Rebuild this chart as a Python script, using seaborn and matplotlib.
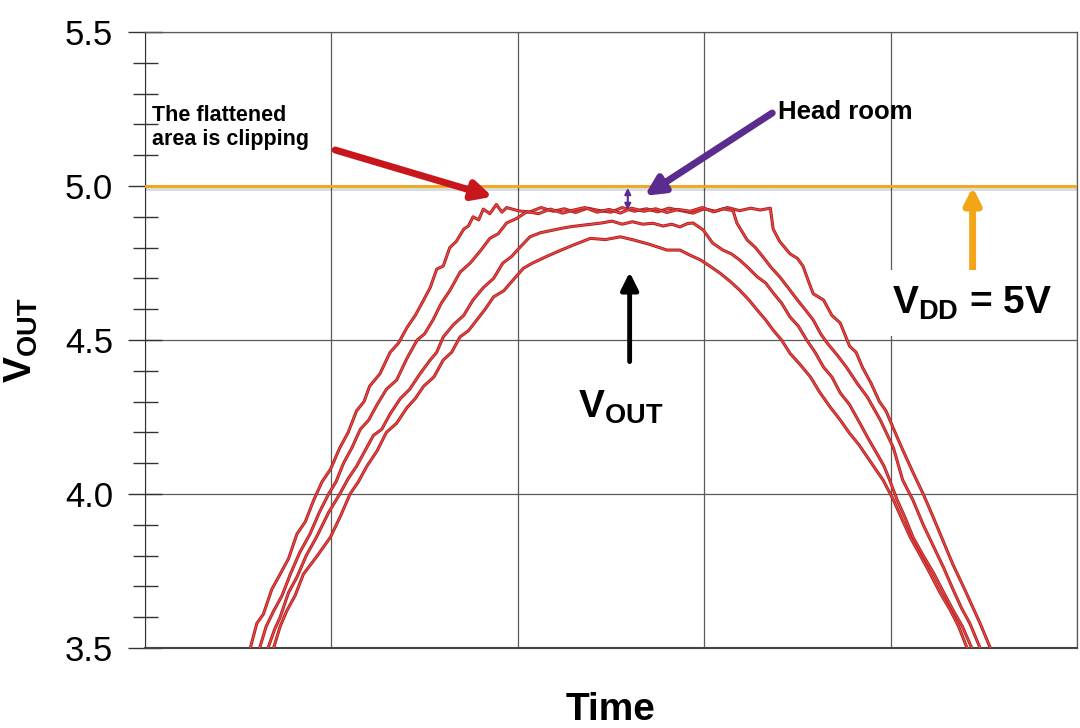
import numpy as np
import pandas as pd
import seaborn as sns
import matplotlib.pyplot as plt
import matplotlib.patheffects as pe
from matplotlib.ticker import MultipleLocator

# Four VOUT traces (time in grid units, 0..10)
time_a = [1.13, 1.20, 1.27, 1.36, 1.45, 1.54, 1.63, 1.72, 1.81, 1.90, 1.99, 2.09,
          2.18, 2.27, 2.35, 2.41, 2.52, 2.63, 2.72, 2.81, 2.90, 2.99, 3.06, 3.13,
          3.20, 3.27, 3.34, 3.42, 3.47, 3.52, 3.58, 3.63, 3.70, 3.77, 3.83, 3.88,
          4.00, 4.12, 4.25, 4.38, 4.50, 4.62, 4.75, 4.88, 5.00, 5.12, 5.25, 5.38,
          5.50, 5.62, 5.75, 5.88, 6.00, 6.12, 6.25, 6.38, 6.50, 6.60, 6.71,
          6.74, 6.81, 6.92, 7.00, 7.06, 7.12, 7.17, 7.28, 7.37, 7.46, 7.56, 7.63,
          7.70, 7.79, 7.88, 7.95, 8.02, 8.12, 8.24, 8.35, 8.45, 8.56, 8.67, 8.78,
          8.87, 8.96, 9.07]
vout_a = [3.50, 3.58, 3.61, 3.69, 3.74, 3.79, 3.87, 3.91, 3.98, 4.04, 4.08, 4.15,
          4.20, 4.27, 4.30, 4.35, 4.39, 4.46, 4.49, 4.54, 4.58, 4.63, 4.67, 4.73,
          4.74, 4.80, 4.82, 4.86, 4.87, 4.90, 4.89, 4.925, 4.91, 4.94, 4.915, 4.93,
          4.92, 4.915, 4.93, 4.918, 4.926, 4.914, 4.928, 4.92, 4.915, 4.93, 4.918, 4.926,
          4.916, 4.928, 4.92, 4.912, 4.926, 4.918, 4.93, 4.92, 4.928, 4.922, 4.928,
          4.86, 4.82, 4.78, 4.765, 4.74, 4.69, 4.65, 4.63, 4.58, 4.555, 4.48, 4.46,
          4.41, 4.36, 4.30, 4.27, 4.22, 4.15, 4.07, 4.00, 3.93, 3.85, 3.77, 3.70,
          3.64, 3.58, 3.50]

time_b = [1.23, 1.30, 1.38, 1.47, 1.56, 1.66, 1.77, 1.87, 1.97, 2.05, 2.13, 2.22,
          2.31, 2.40, 2.49, 2.59, 2.70, 2.81, 2.92, 3.00, 3.09, 3.18, 3.27, 3.38,
          3.49, 3.60, 3.70, 3.79, 3.88, 3.99, 4.10, 4.22, 4.35, 4.48, 4.60, 4.72,
          4.85, 4.98, 5.10, 5.22, 5.35, 5.48, 5.60, 5.72, 5.85, 5.98, 6.10, 6.20,
          6.31, 6.35, 6.46, 6.55, 6.63, 6.72, 6.81, 6.90, 7.00, 7.08, 7.17, 7.25,
          7.32, 7.43, 7.53, 7.64, 7.75, 7.89, 8.03, 8.13, 8.24, 8.35, 8.46, 8.57,
          8.67, 8.76, 8.85, 8.96]
vout_b = [3.50, 3.57, 3.62, 3.67, 3.74, 3.81, 3.87, 3.94, 4.00, 4.04, 4.10, 4.15,
          4.21, 4.24, 4.29, 4.34, 4.37, 4.44, 4.50, 4.52, 4.565, 4.62, 4.66, 4.72,
          4.75, 4.79, 4.83, 4.845, 4.88, 4.895, 4.917, 4.91, 4.925, 4.912, 4.922, 4.93,
          4.915, 4.924, 4.912, 4.928, 4.918, 4.926, 4.914, 4.924, 4.918, 4.93, 4.916, 4.926,
          4.92, 4.88, 4.825, 4.80, 4.77, 4.735, 4.705, 4.67, 4.63, 4.60, 4.565, 4.52,
          4.49, 4.45, 4.41, 4.36, 4.315, 4.24, 4.15, 4.045, 3.98, 3.90, 3.83, 3.76,
          3.69, 3.63, 3.58, 3.50]

time_c = [1.32, 1.39, 1.45, 1.54, 1.63, 1.73, 1.84, 1.97, 2.09, 2.18, 2.27, 2.36,
          2.45, 2.54, 2.63, 2.74, 2.84, 2.95, 3.06, 3.13, 3.20, 3.31, 3.42, 3.52,
          3.63, 3.74, 3.84, 3.93, 4.02, 4.13, 4.24, 4.35, 4.46, 4.57, 4.68, 4.79,
          4.90, 5.01, 5.12, 5.23, 5.34, 5.45, 5.56, 5.65, 5.74, 5.82, 5.88, 5.99,
          6.09, 6.20, 6.29, 6.38, 6.47, 6.57, 6.66, 6.74, 6.83, 6.92, 7.01, 7.10,
          7.19, 7.28, 7.37, 7.46, 7.56, 7.67, 7.76, 7.85, 7.93, 7.99, 8.07, 8.16,
          8.24, 8.35, 8.46, 8.57, 8.67, 8.77, 8.87]
vout_c = [3.50, 3.56, 3.60, 3.68, 3.73, 3.80, 3.86, 3.94, 4.00, 4.05, 4.09, 4.14,
          4.19, 4.21, 4.26, 4.31, 4.34, 4.39, 4.435, 4.46, 4.51, 4.55, 4.58, 4.63,
          4.67, 4.70, 4.75, 4.77, 4.80, 4.835, 4.848, 4.855, 4.862, 4.868, 4.872, 4.876,
          4.88, 4.886, 4.876, 4.884, 4.876, 4.879, 4.870, 4.876, 4.867, 4.878, 4.88, 4.857,
          4.815, 4.792, 4.78, 4.76, 4.735, 4.705, 4.685, 4.653, 4.62, 4.575, 4.545, 4.50,
          4.46, 4.412, 4.38, 4.328, 4.29, 4.23, 4.18, 4.133, 4.09, 4.045, 3.981, 3.92,
          3.86, 3.80, 3.744, 3.68, 3.623, 3.57, 3.50]

time_d = [1.38, 1.45, 1.52, 1.61, 1.70, 1.85, 1.99, 2.10, 2.20, 2.29, 2.38, 2.49,
          2.59, 2.70, 2.81, 2.90, 2.99, 3.10, 3.20, 3.29, 3.38, 3.47, 3.56, 3.65,
          3.74, 3.85, 3.95, 4.06, 4.16, 4.30, 4.45, 4.61, 4.78, 4.94, 5.10, 5.24,
          5.42, 5.60, 5.74, 5.85, 5.96, 6.06, 6.17, 6.28, 6.38, 6.48, 6.57, 6.66,
          6.74, 6.83, 6.92, 7.03, 7.14, 7.24, 7.35, 7.46, 7.56, 7.66, 7.75, 7.84,
          7.92, 8.03, 8.12, 8.21, 8.32, 8.42, 8.53, 8.64, 8.73, 8.82]
vout_d = [3.50, 3.57, 3.62, 3.67, 3.74, 3.80, 3.86, 3.93, 4.00, 4.04, 4.09, 4.14,
          4.20, 4.23, 4.28, 4.31, 4.35, 4.38, 4.435, 4.46, 4.51, 4.53, 4.565, 4.60,
          4.64, 4.66, 4.695, 4.733, 4.75, 4.77, 4.79, 4.81, 4.83, 4.826, 4.835, 4.825,
          4.81, 4.792, 4.792, 4.775, 4.76, 4.74, 4.717, 4.69, 4.662, 4.63, 4.597, 4.565,
          4.532, 4.50, 4.457, 4.42, 4.38, 4.33, 4.283, 4.24, 4.197, 4.16, 4.12, 4.08,
          4.045, 3.981, 3.92, 3.86, 3.80, 3.744, 3.68, 3.623, 3.57, 3.50]

ytick_values = [3.5, 4.0, 4.5, 5.0, 5.5]
vdd = 5.0

frames = []
for name, t, v in [("A", time_a, vout_a), ("B", time_b, vout_b),
                   ("C", time_c, vout_c), ("D", time_d, vout_d)]:
    frames.append(pd.DataFrame({"time": t, "vout": v, "trace": name}))
df = pd.concat(frames, ignore_index=True)

sns.set_style("white")
plt.rcParams["font.family"] = ["Liberation Sans", "DejaVu Sans"]
plt.rcParams["text.color"] = "black"
plt.rcParams["axes.labelcolor"] = "black"
plt.rcParams["mathtext.fontset"] = "custom"
plt.rcParams["mathtext.rm"] = "Liberation Sans"
plt.rcParams["mathtext.bf"] = "Liberation Sans:bold"
plt.rcParams["mathtext.it"] = "Liberation Sans:italic"

fig = plt.figure(figsize=(10.8, 7.28), dpi=100)
ax = fig.add_axes([145 / 1080, 1 - 648 / 728, 932 / 1080, 616 / 728])

grid_col = "#5a5a5a"
tick_col = "#333333"
ax.set_xlim(0, 10)
ax.set_ylim(3.5, 5.5)
ax.set_xticks([0, 2, 4, 6, 8, 10])
ax.set_xticklabels([])
ax.set_xticks([0, 10], minor=True)
ax.set_yticks(ytick_values)
ax.set_yticklabels([f"{v:.1f}" for v in ytick_values])
ax.yaxis.set_minor_locator(MultipleLocator(0.1))
ax.grid(True, which="major", color=grid_col, lw=0.9)
ax.tick_params(axis="x", which="major", length=0, bottom=False)
ax.tick_params(axis="x", which="minor", bottom=True, direction="inout", length=10,
               width=1, color=tick_col)
ax.tick_params(axis="y", which="major", left=True, direction="inout", length=24, width=1,
               color=tick_col, labelsize=25, labelcolor="black", pad=11)
ax.tick_params(axis="y", which="minor", left=True, direction="inout", length=18, width=1,
               color=tick_col)
for side in ["top", "right"]:
    ax.spines[side].set_color(grid_col)
    ax.spines[side].set_linewidth(0.9)
ax.spines["left"].set_color(tick_col)
ax.spines["bottom"].set_color("#444444")
ax.spines["bottom"].set_linewidth(1.5)

# VDD rail
ax.axhline(vdd, color="#f2a516", lw=2, zorder=3,
           path_effects=[pe.SimpleLineShadow(offset=(0, -2), alpha=0.15), pe.Normal()])

sns.lineplot(data=df, x="time", y="vout", units="trace", estimator=None, sort=False,
             color="#f04444", lw=1.0, ax=ax, zorder=4, legend=False,
             path_effects=[pe.Stroke(linewidth=2.2, foreground="#a32020"), pe.Normal()])

ax.set_xlabel("Time", fontsize=28, fontweight="bold")
ax.xaxis.set_label_coords(0.5, -0.071)
ax.set_ylabel(r"$\mathbf{V_{OUT}}$", fontsize=28)
ax.yaxis.set_label_coords(-0.113, 0.5)

# annotations
ax.text(0.08, 5.19, "The flattened\narea is clipping", fontsize=15.5, fontweight="bold",
        va="center", ha="left", linespacing=1.2, zorder=6)
ax.annotate("", xy=(3.73, 4.965), xytext=(2.04, 5.117),
            arrowprops=dict(arrowstyle="-|>", lw=5, color="#c8161d", mutation_scale=28,
                            shrinkA=0, shrinkB=0), zorder=6)

ax.text(6.79, 5.24, "Head room", fontsize=18.5, fontweight="bold",
        va="center", ha="left", zorder=6)
ax.annotate("", xy=(5.36, 4.968), xytext=(6.73, 5.237),
            arrowprops=dict(arrowstyle="-|>", lw=5, color="#5b2c8f", mutation_scale=28,
                            shrinkA=0, shrinkB=0), zorder=6)
ax.annotate("", xy=(5.18, 4.994), xytext=(5.18, 4.922),
            arrowprops=dict(arrowstyle="<|-|>", lw=1.5, color="#5b2c8f", mutation_scale=9,
                            shrinkA=0, shrinkB=0), zorder=6)

ax.annotate("", xy=(8.88, 4.997), xytext=(8.88, 4.72),
            arrowprops=dict(arrowstyle="-|>", lw=5, color="#f2a516", mutation_scale=24,
                            shrinkA=0, shrinkB=0), zorder=6)
ax.text(8.02, 4.62, r"$\mathbf{V_{DD}}$ = 5V", fontsize=28, fontweight="bold",
        va="center", ha="left", zorder=6,
        bbox=dict(facecolor="white", edgecolor="none", pad=10))

ax.annotate("", xy=(5.2, 4.72), xytext=(5.2, 4.43),
            arrowprops=dict(arrowstyle="-|>", lw=3.5, color="black", mutation_scale=26,
                            shrinkA=0, shrinkB=0), zorder=6)
ax.text(5.1, 4.28, r"$\mathbf{V_{OUT}}$", fontsize=28, ha="center", va="center", zorder=6)

fig.savefig("out.png", dpi=100)
